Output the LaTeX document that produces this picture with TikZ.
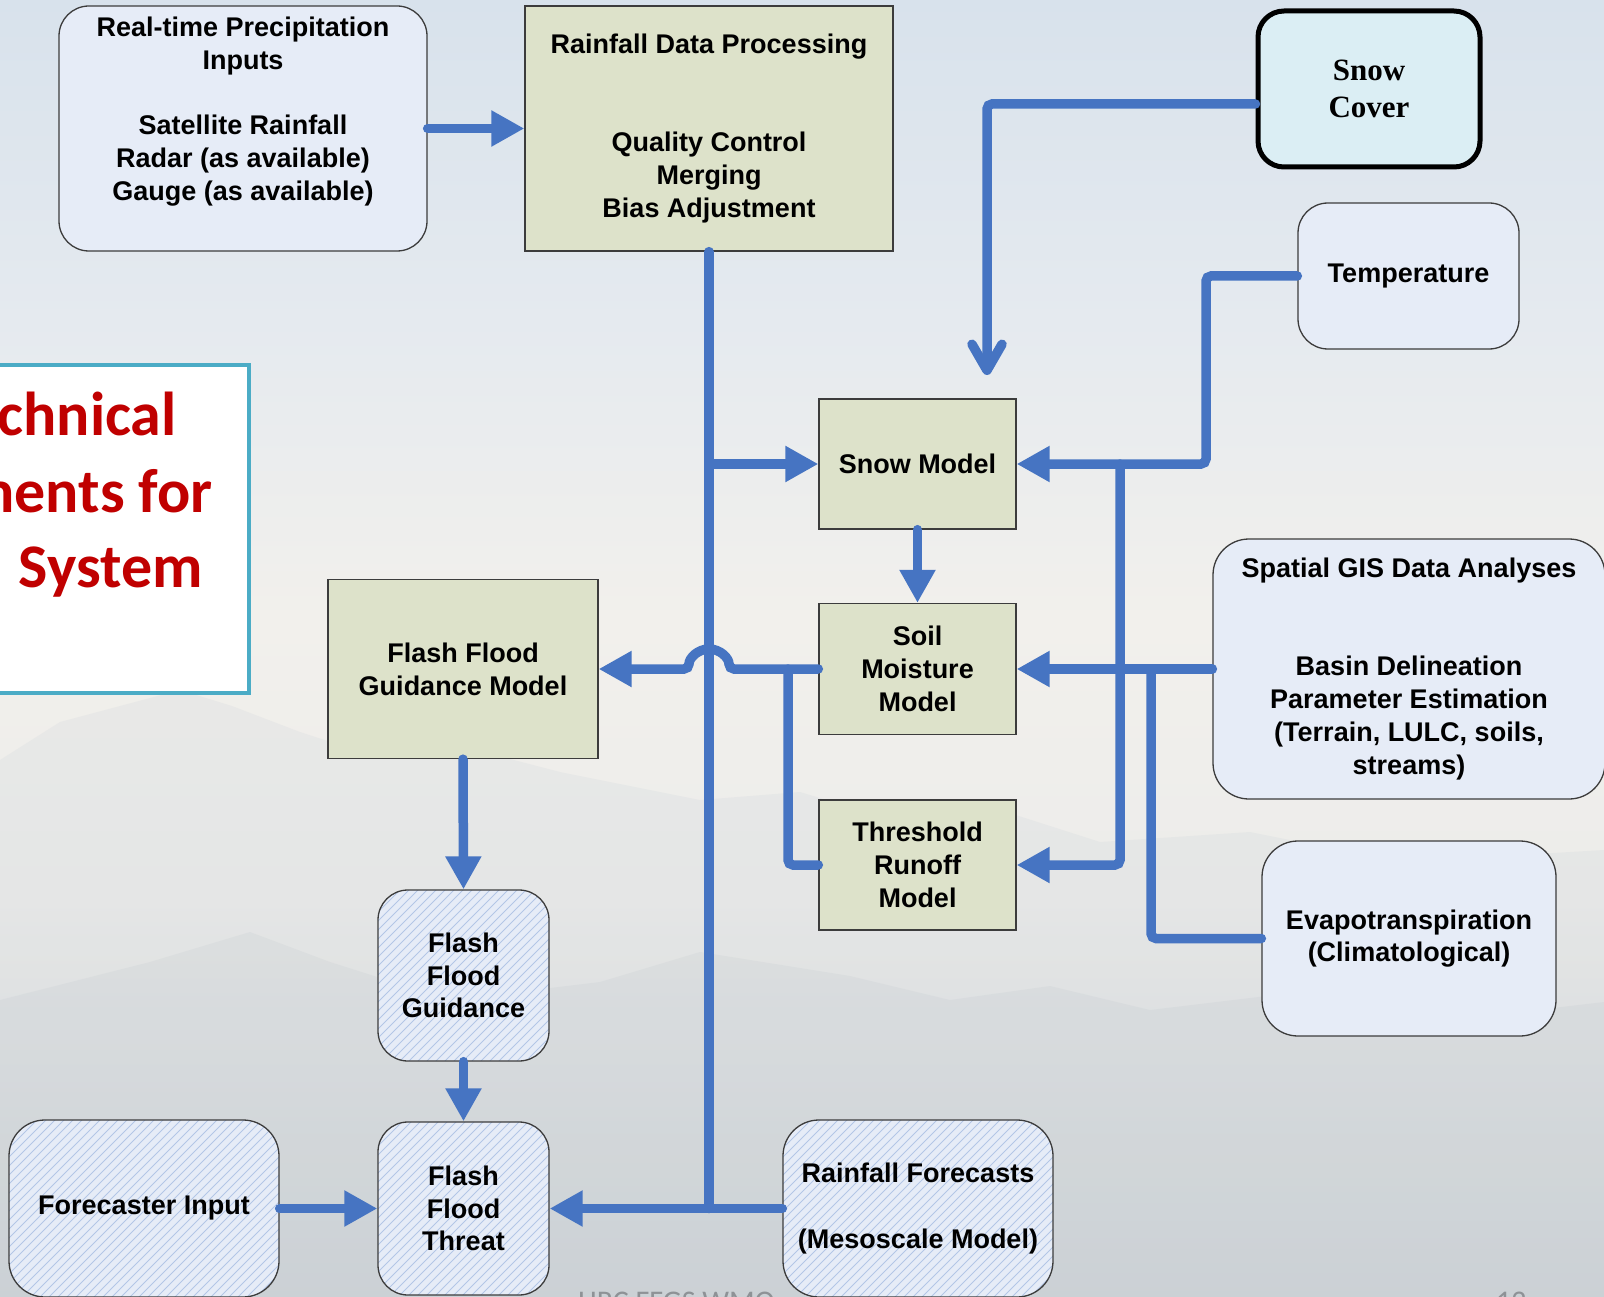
\documentclass[tikz,border=0pt]{standalone}
\usepackage{fontspec}
\setmainfont{Liberation Sans}
\newfontfamily\serifbold{Liberation Serif}
\newfontfamily\titlefont{Carlito}
\usetikzlibrary{arrows.meta}

\definecolor{flow}{HTML}{4674C2}
\definecolor{paleblue}{HTML}{E6ECF7}
\definecolor{khaki}{HTML}{DDE2CA}
\definecolor{icy}{HTML}{DBEEF4}
\definecolor{edge}{HTML}{3C3C3C}
\definecolor{hatchblue}{HTML}{B3C6E6}
\definecolor{titlered}{HTML}{C00000}
\definecolor{framebar}{HTML}{4BACC6}
\definecolor{footgrey}{HTML}{8E9296}
\definecolor{skyA}{HTML}{D8E2EC}
\definecolor{skyB}{HTML}{E5EAEF}
\definecolor{skyC}{HTML}{F2F0EC}
\definecolor{skyD}{HTML}{ECECEA}
\definecolor{skyE}{HTML}{D0D5D8}
\definecolor{ridgeA}{HTML}{CDD3D9}
\definecolor{ridgeB}{HTML}{BCC4CB}

\tikzset{
  boxtext/.style={font=\bfseries\fontsize{27}{32.7}\selectfont, align=center,
    text=black, inner sep=0pt},
  inbox/.style={boxtext, draw=edge, line width=1.3pt, fill=paleblue,
    rounded corners=30pt},
  model/.style={boxtext, draw=edge, line width=1.3pt, fill=khaki},
  hatched/.style={inbox, path picture={
      \foreach \k in {-320,-311,...,320}
        \draw[hatchblue, line width=0.9pt]
          ([xshift=\k pt]path picture bounding box.south west) -- ++(420pt,420pt);}},
  conn/.style={draw=flow, line width=9.5pt, line cap=round, rounded corners=5pt},
  tip/.style={-{Triangle[length=33pt,width=34pt]}},
  barb/.style={-{Straight Barb[length=26pt,width=30pt,round]}},
  redline/.style={font=\titlefont\bfseries\fontsize{62}{76}\selectfont,
    text=titlered, inner sep=0pt, anchor=base east},
  foot/.style={font=\titlefont\fontsize{30}{36}\selectfont, text=footgrey,
    inner sep=0pt, anchor=base west}
}

\begin{document}
\begin{tikzpicture}[x=1pt,y=-1pt]
\useasboundingbox (0,0) rectangle (1604,1297);
\clip (0,0) rectangle (1604,1297);

% hazy sky backdrop
\shade[top color=skyA, bottom color=skyB] (0,-1) rectangle (1604,321);
\shade[top color=skyB, bottom color=skyC] (0,320) rectangle (1604,621);
\shade[top color=skyC, bottom color=skyD] (0,620) rectangle (1604,901);
\shade[top color=skyD, bottom color=skyE] (0,900) rectangle (1604,1298);

% faint mountain ridges
\fill[ridgeA, opacity=0.22] (0,760) -- (60,722) -- (120,706) -- (180,690)
  -- (232,706) -- (300,732) -- (380,758) -- (460,746) -- (560,772) -- (700,800)
  -- (800,792) -- (900,822) -- (1000,810) -- (1100,842) -- (1250,832)
  -- (1400,862) -- (1604,850) -- (1604,1297) -- (0,1297) -- cycle;
\fill[ridgeB, opacity=0.18] (0,1000) -- (150,962) -- (250,932) -- (330,962)
  -- (450,1000) -- (600,982) -- (700,952) -- (850,976) -- (950,1000)
  -- (1050,986) -- (1150,1010) -- (1300,992) -- (1450,1020) -- (1604,1002)
  -- (1604,1297) -- (0,1297) -- cycle;

% title panel at the left edge
\draw[framebar, line width=4.5pt, fill=white] (-30,365) rectangle (249,693);
\node[redline] (title1) at (177,435) {Technical};
\node[redline] (title2) at (213,512) {Elements for};
\node[redline] (title3) at (203,587) {System};

% footer
\node[foot] (footer) at (578,1311) {HRC FFGS WMO};
\node[foot] (pagenum) at (1496,1311) {12};

% boxes
\node[inbox, minimum width=368pt, minimum height=245pt] (rtp) at (243,128.5) {};
\node[boxtext] (rtptext) at (243,111.5)
  {Real-time Precipitation\\Inputs\\[32.7pt]Satellite Rainfall\\Radar (as available)\\Gauge (as available)};
\node[model, minimum width=368pt, minimum height=245pt] (rdp) at (709,128.5)
  {Rainfall Data Processing\\[65.4pt]Quality Control\\Merging\\Bias Adjustment};
\node[draw=black, line width=5pt, fill=icy, rounded corners=26pt,
      minimum width=222pt, minimum height=156pt, inner sep=0pt, align=center,
      font=\serifbold\bfseries\fontsize{31}{37}\selectfont] (snowcover) at (1369,89)
  {Snow\\Cover};
\node[inbox, minimum width=221pt, minimum height=146pt] (temp) at (1408.5,276) {Temperature};
\node[model, minimum width=197pt, minimum height=130pt] (snowmodel) at (917.5,464) {Snow Model};
\node[model, minimum width=197pt, minimum height=131pt] (soil) at (917.5,669) {Soil\\Moisture\\Model};
\node[model, minimum width=197pt, minimum height=130pt] (thresh) at (917.5,865) {Threshold\\Runoff\\Model};
\node[model, minimum width=270pt, minimum height=179pt] (ffgm) at (463,669) {Flash Flood\\Guidance Model};
\node[inbox, rounded corners=36pt, minimum width=392pt, minimum height=260pt] (gis) at (1409,669)
  {Spatial GIS Data Analyses\\[65.4pt]Basin Delineation\\Parameter Estimation\\(Terrain, LULC, soils,\\streams)};
\node[inbox, rounded corners=36pt, minimum width=294pt, minimum height=195pt] (evap) at (1409,938.5)
  {Evapotranspiration\\(Climatological)};
\node[hatched, minimum width=171pt, minimum height=171pt] (ffg) at (463.5,975.5) {Flash\\Flood\\Guidance};
\node[hatched, minimum width=171pt, minimum height=173pt] (fft) at (463.5,1208.5) {Flash\\Flood\\Threat};
\node[hatched, rounded corners=36pt, minimum width=270pt, minimum height=177pt] (fcst) at (144,1208.5) {Forecaster Input};
\node[hatched, rounded corners=36pt, minimum width=270pt, minimum height=177pt] (rfc) at (918,1208.5)
  {Rainfall Forecasts\\[32.7pt](Mesoscale Model)};

% junction points
\coordinate (snowdrop) at (987,375);
\coordinate (tempbend) at (1206,464);
\coordinate (tempjoin) at (1120,464);
\coordinate (evapjoin) at (1151,669);
\coordinate (mainfoot) at (709,1208.5);
\coordinate (mainsnow) at (709,464);
\coordinate (hopright) at (729,669);
\coordinate (threshjoin) at (788,669);

% connectors
\draw[conn, tip] (rtp.east) -- (rtp.east -| rdp.west);
\draw[conn, barb] ([yshift=-15pt]snowcover.west) -| (snowdrop);
\draw[conn, tip] (temp.west) -| (tempbend) -- (snowmodel.east);
\draw[conn, tip] (tempjoin) |- (thresh.east);
\draw[conn, tip] (gis.west) -- (soil.east);
\draw[conn] (evap.west) -| (evapjoin);
\draw[conn] (rdp.south) -- (mainfoot);
\draw[conn, tip] (mainsnow) -- (snowmodel.west);
\draw[conn, tip] (rfc.west) -- (fft.east);
\draw[conn, tip] (soil.west) -- (hopright) arc[start angle=0, end angle=180, radius=20pt] -- (ffgm.east);
\draw[conn] (thresh.west) -| (threshjoin);
\draw[conn, tip] (snowmodel.south) -- (soil.north);
\draw[conn, tip] (ffgm.south) -- (ffg.north);
\draw[conn, tip] (ffg.south) -- (fft.north);
\draw[conn, tip] (fcst.east) -- (fft.west);
\end{tikzpicture}
\end{document}
